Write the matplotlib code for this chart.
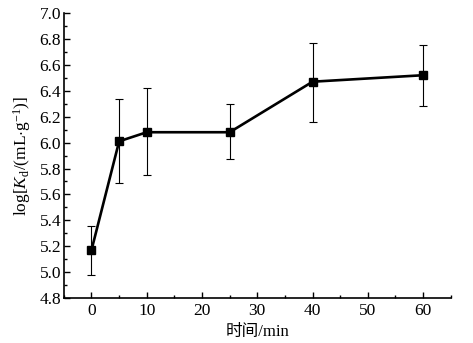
import numpy as np
import matplotlib.pyplot as plt
from matplotlib.ticker import MultipleLocator

plt.rcParams['font.family'] = ['Liberation Serif', 'Noto Sans CJK SC']
plt.rcParams['mathtext.fontset'] = 'custom'
plt.rcParams['mathtext.rm'] = 'Liberation Serif'
plt.rcParams['mathtext.it'] = 'Liberation Serif:italic'

tiempo = [0, 5, 10, 25, 40, 60]
logkd = [5.17, 6.01, 6.08, 6.08, 6.47, 6.52]
err_abajo = [0.19, 0.32, 0.33, 0.21, 0.31, 0.24]
err_arriba = [0.19, 0.33, 0.34, 0.22, 0.30, 0.23]

fig = plt.figure(figsize=(4.73, 3.43), dpi=100)
ax = fig.add_axes([0.135, 0.131, 0.818, 0.831])

ax.errorbar(tiempo, logkd, yerr=[err_abajo, err_arriba], color='black',
            lw=1.9, marker='s', ms=5.5, ecolor='black', elinewidth=0.8,
            capsize=3, capthick=0.8)

ax.set_xlim(-5, 65)
ax.set_ylim(4.8, 7.0)
ax.set_xticks(np.arange(0, 61, 10))
ax.set_yticks(np.arange(4.8, 7.01, 0.2))
ax.set_yticklabels(['%.1f' % v for v in np.arange(4.8, 7.01, 0.2)])
ax.xaxis.set_minor_locator(MultipleLocator(5))
ax.yaxis.set_minor_locator(MultipleLocator(0.1))
ax.tick_params(which='both', direction='in', labelsize=12.5, width=1)
ax.tick_params(which='major', length=4.5)
ax.tick_params(which='minor', length=2.5)
ax.tick_params(axis='y', pad=2)
ax.spines['top'].set_visible(False)
ax.spines['right'].set_visible(False)
ax.spines['left'].set_linewidth(1.2)
ax.spines['bottom'].set_linewidth(1.2)

ax.set_xlabel('时间/min', fontsize=12, labelpad=4)
ax.set_ylabel(r'log[$K_{\rm d}$/(mL$\cdot$g$^{-1}$)]', fontsize=12.5, labelpad=5)

plt.savefig('out.png', dpi=100)
